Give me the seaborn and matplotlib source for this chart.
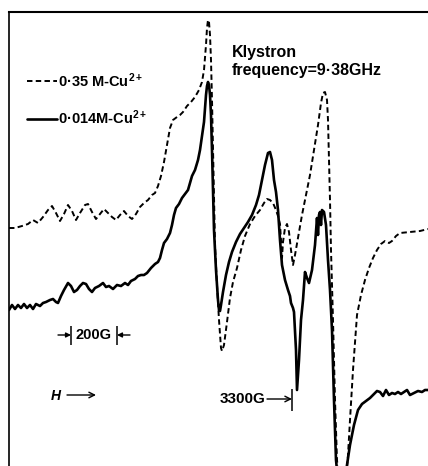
import matplotlib
matplotlib.use("Agg")
import matplotlib.pyplot as plt
import seaborn as sns
import pandas as pd

# ---- data (field position along the sweep, recorder deflection) ----
field_035 = [9, 15, 22, 28, 33, 38, 43, 48, 52, 56, 60, 64, 68, 72, 76, 80, 85, 88, 92, 96,
             100, 104, 108, 112, 116, 120, 124, 128, 132, 136, 140, 144, 148, 152, 155, 158,
             161, 164, 167, 170, 173, 177, 180, 183, 187, 191, 195, 199, 202, 204, 206, 207,
             208, 209, 210, 211, 212, 213, 214, 215, 217, 219, 221, 222, 224, 227, 230, 233,
             237, 241, 245, 250, 255, 260, 264, 267, 270, 273, 276, 278, 280, 281, 282, 283,
             285, 287, 289, 291, 293, 295, 298, 302, 306, 310, 314, 318, 321, 323, 325, 327,
             328, 329, 330, 331, 333, 335, 337, 340, 343, 346, 348, 350, 353, 357, 361, 365,
             369, 373, 377, 381, 385, 389, 392, 396, 400, 410, 420, 428]
signal_035 = [228, 228, 226, 224, 220, 223, 217, 210, 206, 213, 221, 214, 205, 211, 220, 213,
              205, 204, 212, 219, 214, 209, 213, 217, 220, 215, 211, 216, 219, 214, 207, 203,
              200, 195, 193, 186, 176, 162, 145, 128, 120, 117, 115, 112, 106, 102, 97, 90, 82,
              70, 45, 28, 20, 22, 35, 60, 100, 150, 200, 245, 285, 320, 348, 351, 345, 322, 298,
              282, 268, 250, 236, 224, 216, 210, 203, 199, 200, 203, 210, 216, 224, 240, 258,
              242, 228, 224, 232, 250, 265, 255, 238, 215, 195, 175, 150, 125, 103, 93, 92, 100,
              120, 160, 200, 250, 320, 400, 460, 495, 500, 480, 455, 420, 370, 315, 295, 280,
              268, 258, 250, 244, 241, 243, 241, 236, 233, 232, 231, 229]

field_0014 = [9, 12, 15, 18, 21, 24, 27, 30, 33, 36, 40, 43, 46, 50, 53, 56, 58, 61, 64, 68,
              71, 74, 77, 80, 83, 86, 89, 92, 95, 99, 103, 106, 109, 113, 117, 121, 125, 128,
              131, 135, 138, 141, 144, 147, 151, 155, 158, 160, 162, 164, 167, 170, 172, 174,
              176, 179, 182, 185, 188, 190, 192, 195, 198, 200, 202, 204, 205, 206, 207, 208,
              209, 210, 211, 212, 213, 214, 216, 218, 219, 220, 221, 223, 226, 229, 232, 236,
              240, 244, 248, 252, 256, 259, 262, 265, 268, 270, 272, 274, 276, 278, 280, 282,
              285, 288, 290, 291, 293, 294, 296, 297, 299, 301, 303, 305, 307, 309, 312, 315,
              317, 318, 319, 320, 321, 322, 324, 326, 328, 330, 332, 334, 336, 339, 343, 347,
              350, 354, 358, 362, 366, 370, 374, 377, 380, 383, 386, 389, 392, 395, 398, 401,
              404, 407, 410, 414, 418, 422, 425, 428]
signal_0014 = [310, 305, 309, 305, 308, 304, 308, 305, 309, 304, 306, 303, 302, 300, 299, 302,
               303, 296, 290, 283, 286, 292, 290, 286, 283, 284, 289, 292, 288, 286, 283, 287,
               286, 289, 285, 286, 283, 285, 281, 279, 276, 275, 275, 273, 268, 264, 262, 258,
               250, 243, 239, 233, 225, 215, 208, 204, 198, 194, 190, 183, 176, 170, 160, 150,
               136, 122, 108, 95, 86, 82, 85, 95, 115, 150, 190, 230, 270, 300, 310, 311, 305,
               292, 275, 262, 252, 242, 234, 228, 222, 215, 205, 195, 180, 165, 153, 152, 160,
               180, 192, 210, 240, 265, 280, 290, 296, 303, 308, 312, 350, 390, 360, 320, 300,
               272, 278, 283, 270, 245, 218, 235, 215, 212, 225, 210, 212, 225, 260, 290, 330,
               400, 460, 490, 495, 465, 445, 425, 410, 404, 401, 398, 394, 391, 392, 396, 390,
               395, 393, 394, 392, 394, 392, 390, 395, 393, 391, 392, 390, 390]

series_labels = ["0·35 M-Cu$^{2+}$", "0·014M-Cu$^{2+}$"]
freq_text = ["Klystron", "frequency=9·38GHz"]
scale_label = "200G"
field_label = "3300G"
scale_ends = [71, 117]
field_mark = 292

df035 = pd.DataFrame({"field": field_035, "signal": signal_035, "sample": series_labels[0]})
df0014 = pd.DataFrame({"field": field_0014, "signal": signal_0014, "sample": series_labels[1]})

sns.set_theme(style="white")
plt.rcParams["font.family"] = ["Liberation Sans", "DejaVu Sans"]
plt.rcParams["font.weight"] = "bold"
plt.rcParams["text.color"] = "black"
plt.rcParams["mathtext.fontset"] = "custom"
plt.rcParams["mathtext.rm"] = "Liberation Sans:bold"
plt.rcParams["mathtext.default"] = "regular"

fig = plt.figure(figsize=(4.28, 4.66), dpi=100)
fig.patch.set_facecolor("white")
ax = fig.add_axes([9 / 428, 0, 1 - 9 / 428, 1 - 12 / 466])

sns.lineplot(data=df035, x="field", y="signal", sort=False, estimator=None,
             color="black", lw=1.4, ax=ax, label=series_labels[0])
ax.lines[-1].set_dashes((2.8, 1.7))
sns.lineplot(data=df0014, x="field", y="signal", sort=False, estimator=None,
             color="black", lw=1.9, ax=ax, label=series_labels[1])

ax.set_xlim(9, 428)
ax.set_ylim(466, 12)
ax.set_xticks([])
ax.set_yticks([])
ax.set_xlabel("")
ax.set_ylabel("")
for s in ["right", "bottom"]:
    ax.spines[s].set_visible(False)
ax.spines["left"].set_linewidth(1.2)
ax.spines["top"].set_linewidth(1.5)
for s in ["left", "top"]:
    ax.spines[s].set_color("black")

leg = ax.legend(loc="upper left", bbox_to_anchor=(27 / 428, 1 - 71 / 466),
                bbox_transform=fig.transFigure, frameon=False,
                prop={"size": 10.5, "weight": "bold"},
                handlelength=2.05, handletextpad=0.1, labelspacing=1.3,
                borderpad=0, borderaxespad=0)
leg.get_lines()[0].set_dashes((2.8, 1.7))
for t in leg.get_texts():
    t.set_color("black")

ax.text(232, 53, freq_text[0], fontsize=11.5, fontweight="bold", va="center", ha="left",
        color="black")
ax.text(232, 71, freq_text[1], fontsize=11.5, fontweight="bold", va="center", ha="left",
        color="black")

# 200 G scale bar
ax.vlines(scale_ends, 326, 345, color="black", lw=1.1)
ax.annotate("", xy=(scale_ends[0], 335), xytext=(58, 335),
            arrowprops=dict(arrowstyle="-|>", color="black", lw=1.0,
                            mutation_scale=7, shrinkA=0, shrinkB=0))
ax.annotate("", xy=(scale_ends[1], 335), xytext=(130, 335),
            arrowprops=dict(arrowstyle="-|>", color="black", lw=1.0,
                            mutation_scale=7, shrinkA=0, shrinkB=0))
ax.text(sum(scale_ends) / 2, 335, scale_label, fontsize=10.5, fontweight="bold",
        ha="center", va="center", color="black")

# H direction
ax.text(56, 396, "H", fontsize=10, style="italic", fontweight="bold",
        ha="center", va="center", color="black")
ax.annotate("", xy=(96, 395), xytext=(67, 395),
            arrowprops=dict(arrowstyle="->", color="black", lw=1.0,
                            mutation_scale=10, shrinkA=0, shrinkB=0))

# 3300 G marker
ax.vlines([field_mark], 389, 411, color="black", lw=1.1)
ax.annotate("", xy=(field_mark, 399), xytext=(267, 399),
            arrowprops=dict(arrowstyle="->", color="black", lw=1.0,
                            mutation_scale=10, shrinkA=0, shrinkB=0))
ax.text(266, 399, field_label, fontsize=11, fontweight="bold", ha="right", va="center",
        color="black")

fig.savefig("out.png", dpi=100, facecolor="white")
